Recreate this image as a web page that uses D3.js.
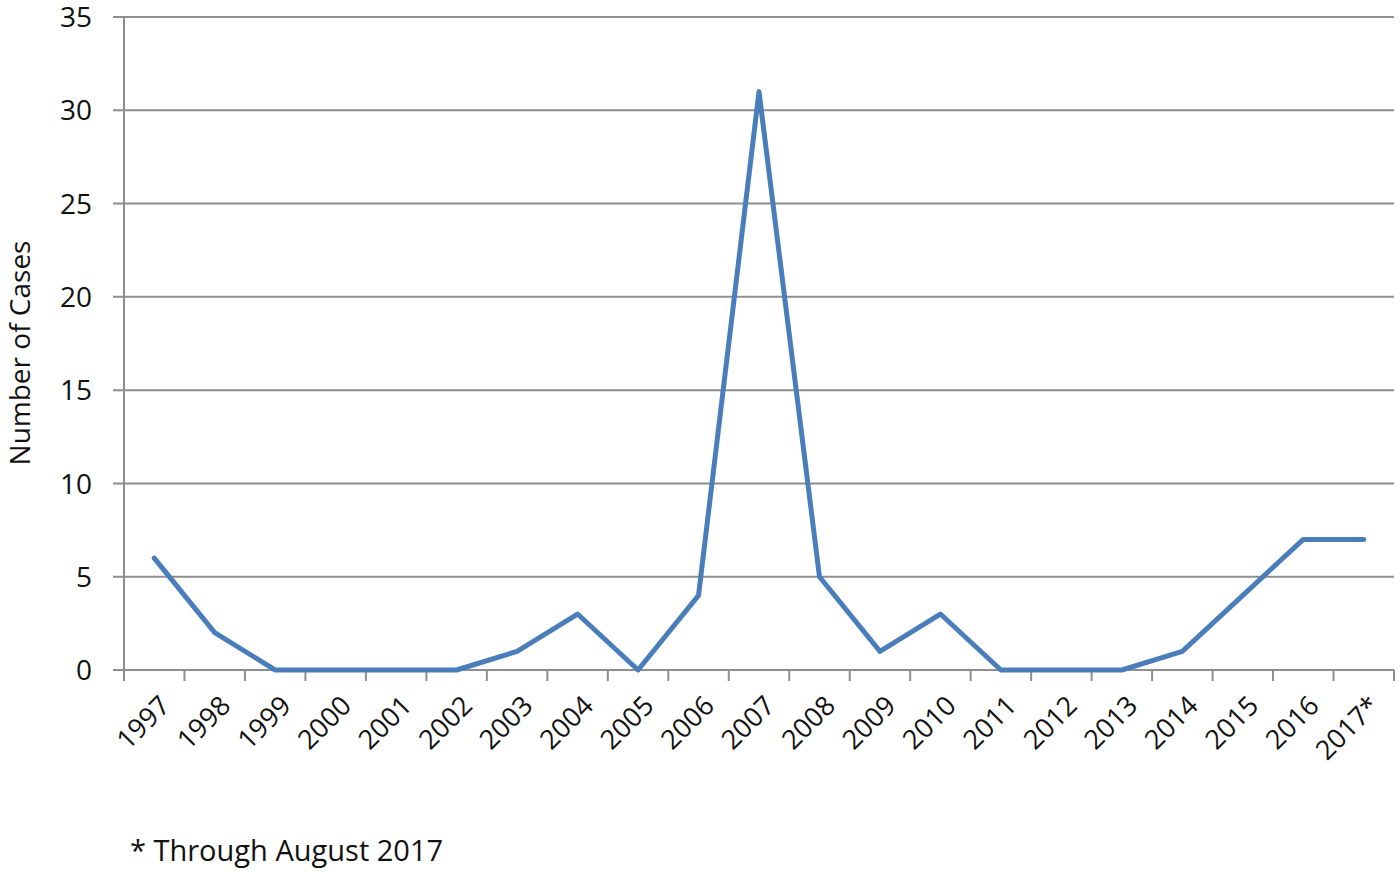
<!DOCTYPE html>
<html>
<head>
<meta charset="utf-8">
<script src="https://cdn.jsdelivr.net/npm/d3@7"></script>
<style>
  body { margin: 0; background: #fff; }
  text { font-family: "Open Sans", "Noto Sans", sans-serif; fill: #111; }
</style>
</head>
<body>
<svg id="chart"></svg>
<script>
var years = ["1997","1998","1999","2000","2001","2002","2003","2004","2005","2006",
             "2007","2008","2009","2010","2011","2012","2013","2014","2015","2016","2017*"];
var cases = [6,2,0,0,0,0,1,3,0,4,31,5,1,3,0,0,0,1,4,7,7];
var yTicks = [0,5,10,15,20,25,30,35];

var width = 1400, height = 874;
var svg = d3.select("#chart").attr("width", width).attr("height", height);

// note: "top" is taken by window.top, so plot edges get their own names
var plotLeft = 124, plotRight = 1394, plotTop = 17, plotBottom = 670;

var x = d3.scaleBand().domain(years).range([plotLeft, plotRight]);
var y = d3.scaleLinear().domain([0, 35]).range([plotBottom, plotTop]);

// gridlines (with the little outward tick on the left)
svg.append("g")
    .selectAll("line")
    .data(yTicks)
    .enter().append("line")
    .attr("x1", plotLeft - 11)
    .attr("x2", plotRight)
    .attr("y1", function (d) { return y(d); })
    .attr("y2", function (d) { return y(d); })
    .attr("stroke", "#8e8e8e")
    .attr("stroke-width", 2);

// y axis line
svg.append("line")
    .attr("x1", plotLeft).attr("x2", plotLeft)
    .attr("y1", plotTop).attr("y2", plotBottom)
    .attr("stroke", "#8e8e8e")
    .attr("stroke-width", 2);

// y tick labels
svg.append("g")
    .selectAll("text")
    .data(yTicks)
    .enter().append("text")
    .attr("x", 92)
    .attr("y", function (d) { return y(d); })
    .attr("dy", "0.36em")
    .attr("text-anchor", "end")
    .style("font-size", "28px")
    .text(function (d) { return d; });

// x ticks at band boundaries
var bounds = years.map(function (d) { return x(d); }).concat([plotRight]);
svg.append("g")
    .selectAll("line")
    .data(bounds)
    .enter().append("line")
    .attr("x1", function (d) { return d; })
    .attr("x2", function (d) { return d; })
    .attr("y1", plotBottom)
    .attr("y2", plotBottom + 11)
    .attr("stroke", "#8e8e8e")
    .attr("stroke-width", 2);

// x tick labels rotated
svg.append("g")
    .selectAll("text")
    .data(years)
    .enter().append("text")
    .attr("transform", function (d) {
        return "translate(" + (x(d) + x.bandwidth() / 2 + 4) + "," + (plotBottom + 24) + ") rotate(-45)";
    })
    .attr("text-anchor", "end")
    .attr("dy", "0.7em")
    .style("font-size", "27px")
    .text(function (d) { return d; });

// the line
var line = d3.line()
    .x(function (d, i) { return x(years[i]) + x.bandwidth() / 2; })
    .y(function (d) { return y(d); });

svg.append("path")
    .datum(cases)
    .attr("d", line)
    .attr("fill", "none")
    .attr("stroke", "#4a7ebb")
    .attr("stroke-width", 5)
    .attr("stroke-linejoin", "round")
    .attr("stroke-linecap", "round");

// y title
svg.append("text")
    .attr("transform", "translate(30,353) rotate(-90)")
    .attr("text-anchor", "middle")
    .style("font-size", "28px")
    .text("Number of Cases");

// footnote
svg.append("text")
    .attr("x", 130)
    .attr("y", 861)
    .style("font-size", "29px")
    .text("* Through August 2017");
</script>
</body>
</html>
